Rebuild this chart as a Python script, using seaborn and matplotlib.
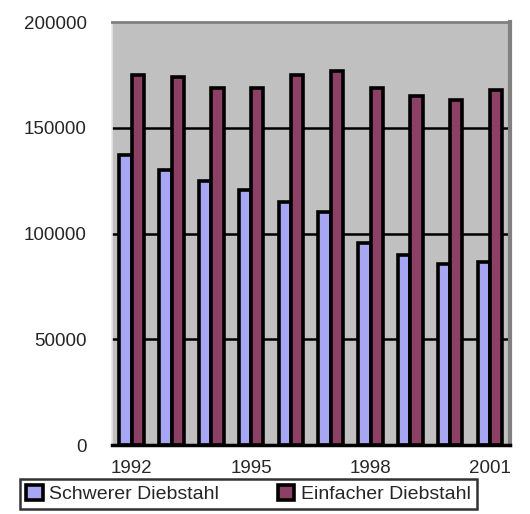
import numpy as np
import pandas as pd
import matplotlib
matplotlib.use("Agg")
import matplotlib.pyplot as plt
import seaborn as sns

years = ["1992", "1993", "1994", "1995", "1996", "1997", "1998", "1999", "2000", "2001"]
schwer = [137000, 130000, 125000, 120500, 115000, 110000, 95500, 90000, 85500, 86500]
einfach = [175000, 174000, 169000, 169000, 175000, 177000, 169000, 165000, 163000, 168000]
series = ["Schwerer Diebstahl", "Einfacher Diebstahl"]
colors = ["#9999FF", "#993366"]
year_labels = ["1992", "1995", "1998", "2001"]
y_ticks = [0, 50000, 100000, 150000, 200000]

df = pd.DataFrame({
    "Jahr": years * 2,
    "Anzahl": schwer + einfach,
    "Art": [series[0]] * len(years) + [series[1]] * len(years),
})

sns.set_style("white")
plt.rcParams["font.family"] = ["Liberation Sans", "DejaVu Sans"]

fig = plt.figure(figsize=(5.30, 5.14), dpi=100)
ax = fig.add_axes([0.211, 0.134, 0.751, 0.823])
ax.set_facecolor("#C0C0C0")

sns.barplot(data=df, x="Jahr", y="Anzahl", hue="Art", palette=colors,
            order=years, hue_order=series, width=0.62,
            edgecolor="black", linewidth=2.6, ax=ax)

ax.set_ylim(0, 200000)
ax.set_xlim(-0.5, len(years) - 0.5)
ax.set_xlabel("")
ax.set_ylabel("")

# grid lines
for v in y_ticks[1:-1]:
    ax.axhline(v, color="black", lw=1.8, zorder=0.5)

ax.set_yticks(y_ticks)
ax.set_yticklabels([str(v) for v in y_ticks], fontsize=13.5)
ax.tick_params(axis="y", length=0, pad=18)

# tick marks at category boundaries, labels at some centres
ax.set_xticks(np.arange(-0.5, len(years)), labels=[""] * (len(years) + 1))
ax.tick_params(axis="x", which="major", direction="out", length=5, width=2.5, color="black")
ax.set_xticks([years.index(y) for y in year_labels], labels=year_labels, minor=True)
ax.tick_params(axis="x", which="minor", length=0, pad=11, labelsize=13.5)

for s in ["top", "right", "left", "bottom"]:
    ax.spines[s].set_visible(True)
ax.spines["top"].set_color("#808080")
ax.spines["top"].set_linewidth(2)
ax.spines["right"].set_color("#808080")
ax.spines["right"].set_linewidth(3)
ax.spines["left"].set_color("#E6E6E6")
ax.spines["left"].set_linewidth(1.2)
ax.spines["bottom"].set_color("black")
ax.spines["bottom"].set_linewidth(2.5)

handles, labels = ax.get_legend_handles_labels()
ax.get_legend().remove()
leg = fig.legend(handles, labels, loc="upper left",
                 bbox_to_anchor=(0.038, 0.068),
                 ncol=2, frameon=True, fancybox=False, fontsize=14,
                 handlelength=0.85, handleheight=0.85, handletextpad=0.35,
                 columnspacing=3.0, borderpad=0.3, borderaxespad=0)
leg.get_frame().set_edgecolor("black")
leg.get_frame().set_linewidth(1.8)

fig.savefig("out.png", dpi=100)
